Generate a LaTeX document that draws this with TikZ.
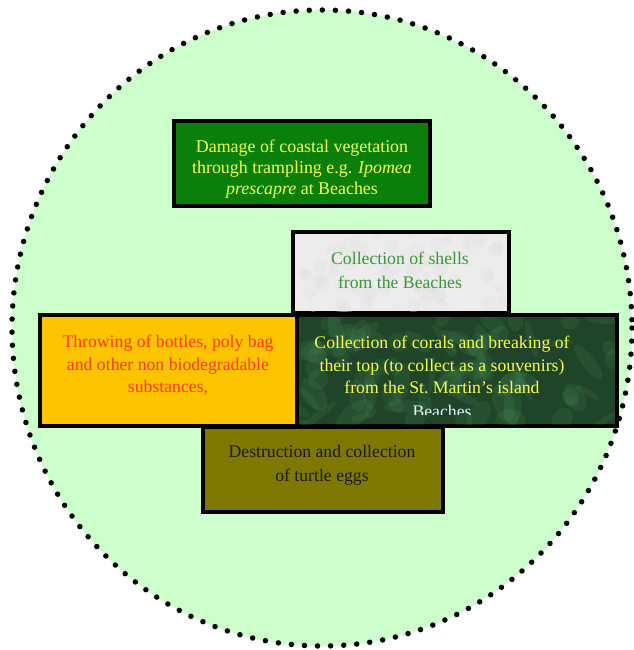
\documentclass[tikz,border=0pt]{standalone}
\usepackage{fontspec}
\setmainfont{Liberation Serif}
\definecolor{bgg}{HTML}{CCFFCC}
\definecolor{gbox}{HTML}{0A7F0A}
\definecolor{ytext}{HTML}{F4FF50}
\definecolor{shellfill}{HTML}{ECECEC}
\definecolor{shelltext}{HTML}{3A963A}
\definecolor{yfill}{HTML}{FFC400}
\definecolor{rtext}{HTML}{FF3A00}
\definecolor{cfill}{HTML}{1F4428}
\definecolor{cblob}{HTML}{4C8A58}
\definecolor{ofill}{HTML}{7F7800}
\definecolor{otext}{HTML}{1A1A00}
\tikzset{
  boxsty/.style={draw=black, line width=4pt, minimum width=#1, inner sep=0pt, outer sep=0pt},
  txt/.style={align=center, font=\fontsize{17.7}{22.5}\selectfont, inner sep=0pt},
  bigtxt/.style={align=center, font=\fontsize{17.9}{21}\selectfont, inner sep=0pt},
  twotxt/.style={align=center, font=\fontsize{17.7}{24.5}\selectfont, inner sep=0pt}
}
\begin{document}
\begin{tikzpicture}[x=1pt,y=-1pt]
\useasboundingbox (0,0) rectangle (633,650);
\fill[white] (0,0) rectangle (633,650);
\path[fill=bgg] (322,328) ellipse [x radius=310, y radius=318];
\draw[line width=5.5pt, line cap=round, dash pattern=on 0pt off 13.1pt] (322,328) ellipse [x radius=310, y radius=318];
% boxes
\node[boxsty=256pt, minimum height=85pt, fill=gbox] (b1) at (302,163.5) {};
\node[boxsty=216pt, minimum height=81pt, fill=shellfill] (b2) at (401,272.5) {};
\node[boxsty=257pt, minimum height=111pt, fill=yfill] (b3) at (168.5,370.5) {};
\node[boxsty=320pt, minimum height=111pt, fill=cfill] (b4) at (457,370.5) {};
\node[boxsty=240pt, minimum height=85pt, fill=ofill] (b5) at (323,469.5) {};
% marbled texture of the coral box
\begin{scope}
\clip (299,317) rectangle (615,424);
\pgfmathsetseed{11}
\foreach \i in {1,...,90}{
  \pgfmathsetmacro\px{299+rnd*316}
  \pgfmathsetmacro\py{317+rnd*107}
  \pgfmathsetmacro\ra{6+rnd*16}
  \pgfmathsetmacro\rb{3+rnd*8}
  \pgfmathsetmacro\ang{rnd*180}
  \fill[cblob, opacity=0.18, rotate around={\ang:(\px,\py)}] (\px,\py) ellipse [x radius=\ra, y radius=\rb];
}
\end{scope}
% speckles of the shell box
\begin{scope}
\clip (295,234) rectangle (507,311);
\pgfmathsetseed{5}
\foreach \i in {1,...,90}{
  \pgfmathsetmacro\px{295+rnd*212}
  \pgfmathsetmacro\py{234+rnd*77}
  \pgfmathsetmacro\ra{2+rnd*6}
  \fill[black!12, opacity=0.3] (\px,\py) circle [radius=\ra];
}
\end{scope}
% texts
\node[bigtxt, text=ytext] (t1) at (302,169) {Damage of coastal vegetation\\through trampling e.g. \textit{Ipomea}\\\textit{prescapre} at Beaches};
\node[twotxt, text=shelltext] (t2) at (400,270.5) {Collection of shells\\from the Beaches};
\node[txt, text=rtext] (t3) at (168,365.5) {Throwing of bottles, poly bag\\and other non biodegradable\\substances,};
\node[txt, text=ytext] (t4) at (442,365) {Collection of corals and breaking of\\their top (to collect as a souvenirs)\\from the St.\ Martin's island};
\begin{scope}
\clip (297,315) rectangle (617,414.5);
\node[txt, text=white!90!cyan] (t4b) at (442,411) {Beaches};
\end{scope}
\node[twotxt, text=otext] (t5) at (322,465.5) {Destruction and collection\\of turtle eggs};
\end{tikzpicture}
\end{document}
